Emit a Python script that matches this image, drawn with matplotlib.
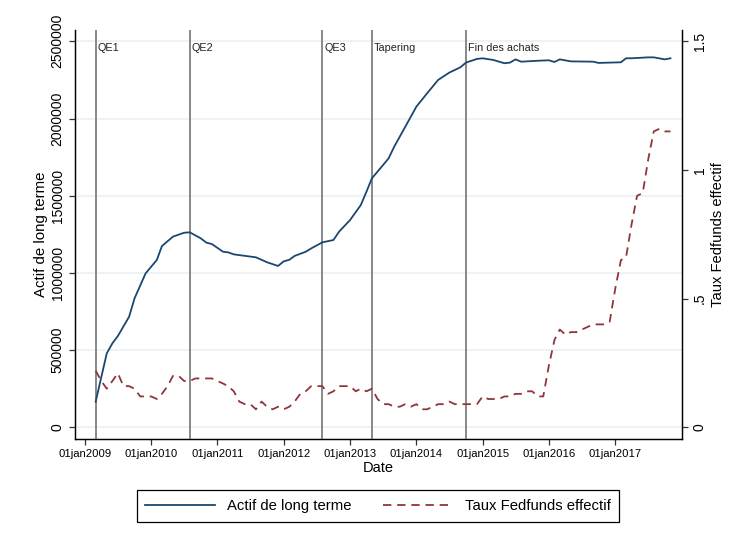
import matplotlib
matplotlib.use("Agg")
import matplotlib.pyplot as plt
import pandas as pd

plt.rcParams['font.family'] = ['Liberation Sans', 'DejaVu Sans']
plt.rcParams['lines.scale_dashes'] = False

# Actif de long terme
actif_mois = [
    "2009-03", "2009-05", "2009-06", "2009-07", "2009-09", "2009-10", "2009-12",
    "2010-02", "2010-03", "2010-05", "2010-07", "2010-08", "2010-10", "2010-11", "2010-12",
    "2011-02", "2011-03", "2011-04", "2011-08", "2011-10", "2011-12",
    "2012-01", "2012-02", "2012-03", "2012-05", "2012-06", "2012-08", "2012-10", "2012-11",
    "2013-01", "2013-03", "2013-04", "2013-05", "2013-06", "2013-08", "2013-09", "2013-11",
    "2014-01", "2014-03", "2014-05", "2014-07", "2014-09", "2014-10", "2014-12",
    "2015-01", "2015-03", "2015-05", "2015-06", "2015-07", "2015-08", "2015-11",
    "2016-01", "2016-02", "2016-03", "2016-05", "2016-09", "2016-10",
    "2017-02", "2017-03", "2017-04", "2017-07", "2017-08", "2017-10", "2017-11",
]
actif_valeurs = [
    166000, 479000, 544000, 591000, 716000, 835000, 997000,
    1084000, 1174000, 1235000, 1260000, 1263000, 1224000, 1196000, 1187000,
    1137000, 1133000, 1120000, 1101000, 1069000, 1045000,
    1075000, 1085000, 1110000, 1137000, 1159000, 1198000, 1213000, 1267000,
    1343000, 1440000, 1526000, 1613000, 1656000, 1742000, 1818000, 1947000,
    2077000, 2163000, 2250000, 2297000, 2332000, 2362000, 2386000,
    2390000, 2379000, 2358000, 2362000, 2383000, 2368000, 2374000,
    2377000, 2366000, 2383000, 2370000, 2368000, 2360000,
    2364000, 2390000, 2390000, 2396000, 2396000, 2383000, 2390000,
]

# Taux Fedfunds effectif, mensuel a partir de mars 2009
taux_debut = "2009-03-01"
taux_valeurs = [
    0.22, 0.18, 0.15, 0.18, 0.21, 0.16, 0.16, 0.15, 0.12, 0.12,
    0.12, 0.11, 0.13, 0.16, 0.20, 0.20, 0.18, 0.18, 0.19, 0.19, 0.19, 0.19,
    0.18, 0.17, 0.16, 0.14, 0.10, 0.09, 0.09, 0.07, 0.10, 0.08, 0.07, 0.08,
    0.07, 0.08, 0.10, 0.13, 0.14, 0.16, 0.16, 0.16, 0.13, 0.14, 0.16, 0.16,
    0.16, 0.14, 0.15, 0.14, 0.15, 0.11, 0.09, 0.09, 0.08, 0.08, 0.09, 0.08,
    0.09, 0.07, 0.07, 0.08, 0.09, 0.09, 0.10, 0.09, 0.09, 0.09, 0.09, 0.09,
    0.12, 0.11, 0.11, 0.11, 0.12, 0.12, 0.13, 0.13, 0.14, 0.14, 0.12, 0.12,
    0.24, 0.34, 0.38, 0.36, 0.37, 0.37, 0.38, 0.39, 0.40, 0.40, 0.40, 0.41,
    0.54, 0.65, 0.66, 0.79, 0.90, 0.91, 1.04, 1.15, 1.16, 1.15, 1.15,
]

evenements = ["QE1", "QE2", "QE3", "Tapering", "Fin des achats"]
evenements_dates = ["2009-03-01", "2010-08-01", "2012-08-01", "2013-05-01", "2014-10-01"]

annees = list(range(2009, 2018))
xtick_labels = ["01jan%d" % a for a in annees]
gauche_ticks = [0, 500000, 1000000, 1500000, 2000000, 2500000]
droite_ticks = [0, 0.5, 1, 1.5]
droite_labels = ["0", ".5", "1", "1.5"]

bleu = "#1a476f"
rouge = "#90353b"

actif_dates = pd.to_datetime(actif_mois)
taux_dates = pd.date_range(taux_debut, periods=len(taux_valeurs), freq="MS")

fig = plt.figure(figsize=(7.36, 5.41), dpi=100)
ax = fig.add_axes([0.1019, 0.1885, 0.8251, 0.756])
ax2 = ax.twinx()

ax.set_yticks(gauche_ticks)
ax.set_yticklabels([str(v) for v in gauche_ticks], rotation=90, va="center", fontsize=10)
ax.grid(axis="y", color="#eaf2f3", linewidth=1.3)
ax.set_axisbelow(True)

for nom, d in zip(evenements, evenements_dates):
    ax.axvline(pd.Timestamp(d), color="#7f7f7f", linewidth=1.3, zorder=3)
    ax.annotate(nom, xy=(pd.Timestamp(d), 0.955), xycoords=("data", "axes fraction"),
                xytext=(1.6, 0), textcoords="offset points", va="center", ha="left",
                fontsize=7.8, color="#222222")

l1, = ax.plot(actif_dates, actif_valeurs, color=bleu, linewidth=1.3, zorder=4,
              label="Actif de long terme")
l2, = ax2.plot(taux_dates, taux_valeurs, color=rouge, linewidth=1.3,
               dashes=(6, 4.2), label="Taux Fedfunds effectif")

ax.set_ylim(-75800, 2573000)
ax2.set_ylim(-0.0455, 1.544)
ax.set_xlim(pd.Timestamp("2008-11-07"), pd.Timestamp("2018-01-05"))

ax.set_xticks([pd.Timestamp("%d-01-01" % a) for a in annees])
ax.set_xticklabels(xtick_labels, fontsize=8.1)

ax2.set_yticks(droite_ticks)
ax2.set_yticklabels(droite_labels, rotation=90, va="center", fontsize=10)

for a in (ax, ax2):
    a.spines["top"].set_visible(False)
    for s in a.spines.values():
        s.set_linewidth(0.9)
        s.set_color("black")
    a.tick_params(length=4.5, width=0.9, color="#333333")
ax.tick_params(axis="x", pad=3)
ax.tick_params(axis="y", pad=3)
ax2.tick_params(axis="y", pad=3)

ax.set_xlabel("Date", fontsize=10.5, labelpad=1)
ax.set_ylabel("Actif de long terme", fontsize=10.8, labelpad=2)
ax2.set_ylabel("Taux Fedfunds effectif", fontsize=10.6, labelpad=3)

fig.legend([l1, l2], ["Actif de long terme", "Taux Fedfunds effectif"],
           loc="center", bbox_to_anchor=(0.5136, 0.0647), ncol=2,
           fancybox=False, edgecolor="black", framealpha=1, fontsize=10.7,
           handlelength=4.7, columnspacing=2.1, handletextpad=0.8, borderpad=0.6,
           borderaxespad=0).get_frame().set_linewidth(0.9)

fig.savefig("out.png", dpi=100)
